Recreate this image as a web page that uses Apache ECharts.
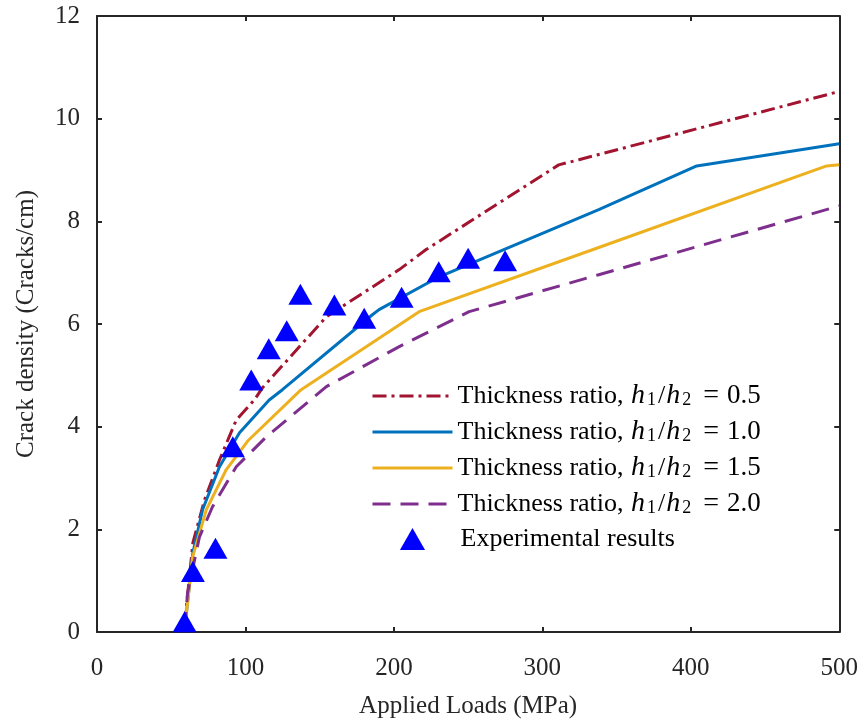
<!DOCTYPE html>
<html>
<head>
<meta charset="utf-8">
<script src="https://cdn.jsdelivr.net/npm/echarts@6/dist/echarts.min.js"></script>
<style>html,body{margin:0;padding:0;background:#fff}#c{width:861px;height:725px}</style>
</head>
<body>
<div id="c"></div>
<script>
// Thickness ratio h1/h2 = 0.5 (x: MPa, y: cracks/cm)
const ratio05 = [[59,0.14],[64.6,1.74],[72.4,2.57],[82.5,3.35],[93.8,4.13],[106,4.52],[111.5,4.76],[154.5,6.14],[203.6,7.06],[221.7,7.45],[311,9.1],[324.6,9.2],[500,10.53]];
// h1/h2 = 1.0
const ratio10 = [[59,0.04],[64.6,1.54],[71.1,2.38],[82.5,3.22],[96,3.88],[116,4.52],[124.9,4.72],[185.5,6.18],[190,6.28],[230.5,6.92],[338,8.23],[404,9.08],[500,9.51]];
// h1/h2 = 1.5
const ratio15 = [[59,0.04],[64.4,1.46],[73.6,2.38],[87,3.16],[101.5,3.72],[137.5,4.72],[217,6.24],[338,7.49],[491.5,9.08],[500,9.1]];
// h1/h2 = 2.0
const ratio20 = [[59,0.04],[61,0.76],[69,1.85],[77.8,2.44],[93.8,3.22],[114,3.8],[154.5,4.78],[203.6,5.56],[250.7,6.24],[338,6.96],[500,8.3]];
// Experimental results
const experimental = [[59,0.2],[64.6,1.18],[79.8,1.63],[91.5,3.61],[103.9,4.91],[115.7,5.52],[127.8,5.87],[137,6.58],[159.9,6.37],[180,6.11],[205.2,6.52],[230.2,7.02],[250,7.28],[274.9,7.23]];

const ratioLabels = {r05:'0.5', r10:'1.0', r15:'1.5', r20:'2.0'};

const axisColor = '#262626';
const serif = '"Liberation Serif", "Times New Roman", serif';
const fs = 25;
const lfs = 26;

const chart = echarts.init(document.getElementById('c'));
function axisBase(extra){
  return Object.assign({
    type:'value',
    axisLine:{show:true,onZero:false,lineStyle:{color:axisColor,width:2}},
    axisTick:{show:true,inside:true,length:5,lineStyle:{color:axisColor,width:2}},
    splitLine:{show:false},
    axisLabel:{color:axisColor,fontFamily:serif,fontSize:fs}
  }, extra);
}
const hidden = {opacity:0,color:'rgba(0,0,0,0)',borderWidth:0};
chart.setOption({
  animation:false,
  backgroundColor:'#fff',
  grid:{left:97,right:20,top:16,bottom:93},
  xAxis:[
    axisBase({min:0,max:500,interval:100,position:'bottom',name:'Applied Loads (MPa)',nameLocation:'middle',nameGap:62,
      nameTextStyle:{color:axisColor,fontFamily:serif,fontSize:fs},axisLabel:{color:axisColor,fontFamily:serif,fontSize:fs,margin:24}}),
    axisBase({min:0,max:500,interval:100,position:'top',axisLabel:{show:false}})
  ],
  yAxis:[
    axisBase({min:0,max:12,interval:2,position:'left',name:'Crack density (Cracks/cm)',nameLocation:'middle',nameGap:58,
      nameTextStyle:{color:axisColor,fontFamily:serif,fontSize:fs},axisLabel:{color:axisColor,fontFamily:serif,fontSize:fs,margin:17}}),
    axisBase({min:0,max:12,interval:2,position:'right',axisLabel:{show:false}})
  ],
  legend:{
    data:[
      {name:'r05',itemStyle:hidden,lineStyle:{width:3}},
      {name:'r10',itemStyle:hidden,lineStyle:{width:3}},
      {name:'r15',itemStyle:hidden,lineStyle:{width:3}},
      {name:'r20',itemStyle:hidden,lineStyle:{width:3}},
      {name:'exp',icon:'path://M12,0 L24,21 L0,21 Z'}
    ],
    left:371, top:382, padding:0,
    orient:'vertical',
    itemWidth:80, itemHeight:22, itemGap:8,
    symbolKeepAspect:true,
    textStyle:{
      color:'#000',fontFamily:serif,fontSize:lfs,lineHeight:22,
      rich:{
        t:{fontFamily:serif,fontSize:lfs,color:'#000',lineHeight:22},
        n:{fontFamily:serif,fontSize:27,color:'#000',lineHeight:22},
        x:{fontFamily:serif,fontSize:lfs,color:'#000',lineHeight:22,padding:[0,0,0,3]},
        i:{fontFamily:serif,fontSize:lfs+2,fontStyle:'italic',color:'#000',lineHeight:22,padding:[0,1,0,1]},
        s:{fontFamily:serif,fontSize:18,color:'#000',lineHeight:12,padding:[8,2,0,1]},
        e:{fontFamily:serif,fontSize:28,color:'#000',lineHeight:22,padding:[0,8,0,10]}
      }
    },
    formatter:function(n){
      if(n==='exp') return '{x|Experimental results}';
      return '{t|Thickness ratio, }{i|h}{s|1}{t|/}{i|h}{s|2}{e|=}{n|'+ratioLabels[n]+'}';
    }
  },
  series:[
    {name:'r05',type:'line',data:ratio05,symbol:'none',lineStyle:{color:'#A2142F',width:3,type:[14,5,3,5]},itemStyle:{color:'#A2142F'}},
    {name:'r10',type:'line',data:ratio10,symbol:'none',lineStyle:{color:'#0072BD',width:3},itemStyle:{color:'#0072BD'}},
    {name:'r15',type:'line',data:ratio15,symbol:'none',lineStyle:{color:'#EDB120',width:3},itemStyle:{color:'#EDB120'}},
    {name:'r20',type:'line',data:ratio20,symbol:'none',lineStyle:{color:'#7E2F8E',width:3,type:[18,10]},itemStyle:{color:'#7E2F8E'}},
    {name:'exp',type:'scatter',data:experimental,symbol:'triangle',symbolSize:[24,21],itemStyle:{color:'#0000FF',opacity:1},z:5}
  ]
});
</script>
</body>
</html>
